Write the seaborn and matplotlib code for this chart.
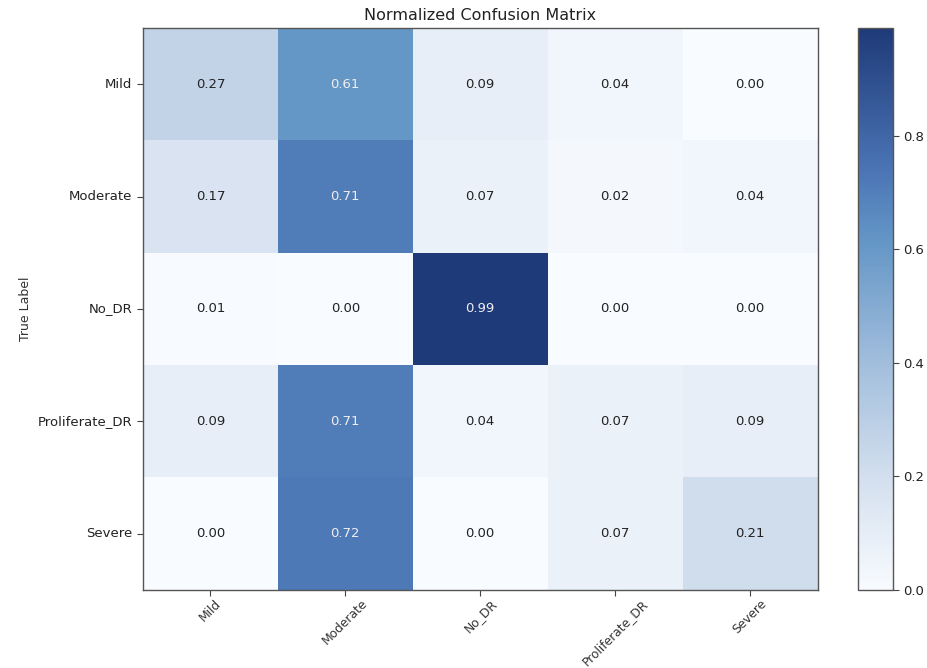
import numpy as np
import pandas as pd
import seaborn as sns
import matplotlib
matplotlib.use("Agg")
import matplotlib.pyplot as plt
from matplotlib.colors import LinearSegmentedColormap

classes = ["Mild", "Moderate", "No_DR", "Proliferate_DR", "Severe"]

row_mild = [0.27, 0.61, 0.09, 0.04, 0.00]
row_moderate = [0.17, 0.71, 0.07, 0.02, 0.04]
row_no_dr = [0.01, 0.00, 0.99, 0.00, 0.00]
row_proliferate = [0.09, 0.71, 0.04, 0.07, 0.09]
row_severe = [0.00, 0.72, 0.00, 0.07, 0.21]

cm = pd.DataFrame([row_mild, row_moderate, row_no_dr, row_proliferate, row_severe],
                  index=classes, columns=classes)

# Muted blue ramp, white to deep navy
blues = LinearSegmentedColormap.from_list(
    "muted_blues",
    [(0.00, "#f8fbff"), (0.20, "#d3dfee"), (0.42, "#9dbbdb"),
     (0.62, "#6496c6"), (0.75, "#4a74b4"), (1.00, "#1f3a78")])

sns.set_style("white")
plt.rcParams["font.family"] = ["DejaVu Sans"]

fig = plt.figure(figsize=(9.28, 6.68), dpi=100)
ax = fig.add_axes([0.154, 0.117, 0.727, 0.841])
cax = fig.add_axes([0.925, 0.117, 0.037, 0.841])

vmax = cm.values.max()
sns.heatmap(cm, ax=ax, cbar_ax=cax, cmap=blues, vmin=0, vmax=vmax,
            annot=True, fmt=".2f", annot_kws={"fontsize": 9.5},
            linewidths=0, square=False)

thresh = vmax / 2.0
for txt, val in zip(ax.texts, cm.values.ravel()):
    txt.set_color("#eeeeee" if val > thresh else "#222222")

ax.set_title("Normalized Confusion Matrix", fontsize=11.5, color="#222222", pad=6)
ax.set_ylabel("True Label", fontsize=9, color="#333333")
ax.set_xlabel("")
ax.set_xticklabels(classes, rotation=45, ha="center", fontsize=8.8, color="#333333")
ax.set_yticklabels(classes, rotation=0, fontsize=9.5, color="#222222")
ax.tick_params(axis="both", which="major", length=4, width=0.8, color="#444444",
               bottom=True, left=True)
ax.tick_params(axis="x", pad=1)

for spine in ax.spines.values():
    spine.set_visible(True)
    spine.set_color("#555555")
    spine.set_linewidth(1.0)

cbar = ax.collections[0].colorbar
cbar.set_ticks([0.0, 0.2, 0.4, 0.6, 0.8])
cbar.ax.tick_params(labelsize=9.5, length=4, width=0.8, color="#444444", labelcolor="#222222")
cbar.outline.set_visible(True)
cbar.outline.set_edgecolor("#555555")
cbar.outline.set_linewidth(1.0)

fig.savefig("out.png", dpi=100)
